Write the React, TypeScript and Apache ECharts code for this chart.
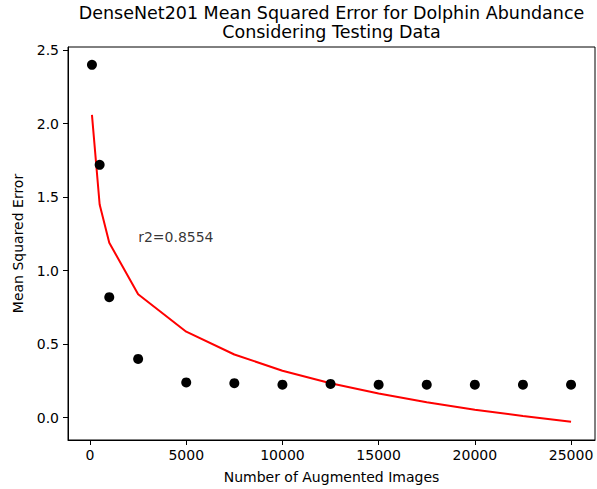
import React, { useEffect, useRef } from "react";
import * as echarts from "echarts";

const xValues = [100, 500, 1000, 2500, 5000, 7500, 10000, 12500, 15000, 17500, 20000, 22500, 25000];
const mseValues = [2.40, 1.72, 0.82, 0.40, 0.24, 0.235, 0.225, 0.23, 0.225, 0.225, 0.225, 0.225, 0.225];
const fitValues = [2.06, 1.45, 1.19, 0.84, 0.585, 0.43, 0.32, 0.235, 0.165, 0.105, 0.055, 0.012, -0.028];
const xTicks = [0, 5000, 10000, 15000, 20000, 25000];
const yTicks = [0, 0.5, 1.0, 1.5, 2.0, 2.5];
const annotation = { x: 2500, y: 1.2, text: "r2=0.8554" };
const titleText = "DenseNet201 Mean Squared Error for Dolphin Abundance\nConsidering Testing Data";

const FONT = "DejaVu Sans";

export default function App() {
  const ref = useRef<HTMLDivElement>(null);
  useEffect(() => {
    if (!ref.current) return;
    const chart = echarts.init(ref.current, null, { renderer: "svg" });
    const axisCommon = {
      axisLine: { show: true, onZero: false, lineStyle: { color: "#000", width: 1 } },
      axisTick: { show: true, inside: false, length: 5, lineStyle: { color: "#000", width: 1 } },
      splitLine: { show: false },
    };
    chart.setOption({
      animation: false,
      backgroundColor: "#fff",
      title: {
        text: titleText,
        left: 331.5,
        top: 3,
        textAlign: "center",
        padding: 0,
        textStyle: { fontFamily: FONT, fontSize: 17.5, fontWeight: "normal", color: "#000", lineHeight: 19 },
      },
      grid: { left: 68, right: 2, top: 47, bottom: 48, show: true, borderColor: "#000", borderWidth: 1, backgroundColor: "transparent" },
      xAxis: {
        type: "value",
        min: -1145,
        max: 26245,
        ...axisCommon,
        axisTick: { ...axisCommon.axisTick, customValues: xTicks },
        axisLabel: { customValues: xTicks, fontFamily: FONT, fontSize: 14, color: "#000", margin: 8, formatter: (v: number) => String(v) },
        name: "Number of Augmented Images",
        nameLocation: "middle",
        nameGap: 30,
        nameTextStyle: { fontFamily: FONT, fontSize: 14, color: "#000" },
      },
      yAxis: {
        type: "value",
        min: -0.1515,
        max: 2.5215,
        ...axisCommon,
        axisTick: { ...axisCommon.axisTick, customValues: yTicks },
        axisLabel: { customValues: yTicks, fontFamily: FONT, fontSize: 14, color: "#000", margin: 9, formatter: (v: number) => v.toFixed(1) },
        name: "Mean Squared Error",
        nameLocation: "middle",
        nameGap: 43,
        nameTextStyle: { fontFamily: FONT, fontSize: 14, color: "#000" },
      },
      series: [
        {
          type: "line",
          data: xValues.map((x, i) => [x, fitValues[i]]),
          showSymbol: false,
          symbol: "none",
          lineStyle: { color: "#ff0000", width: 2 },
          z: 2,
        },
        {
          type: "scatter",
          data: xValues.map((x, i) => [x, mseValues[i]]),
          symbol: "circle",
          symbolSize: 10,
          itemStyle: { color: "#000", opacity: 1 },
          z: 3,
        },
        {
          type: "scatter",
          data: [[annotation.x, annotation.y]],
          symbolSize: 0,
          silent: true,
          label: {
            show: true,
            formatter: annotation.text,
            position: [0, 0],
            align: "left",
            verticalAlign: "bottom",
            offset: [0, 3],
            fontFamily: FONT,
            fontSize: 14,
            color: "#000",
          },
        },
      ],
    });
    return () => chart.dispose();
  }, []);
  return <div ref={ref} style={{ position: "fixed", left: 0, top: 0, width: 597, height: 489 }} />;
}
